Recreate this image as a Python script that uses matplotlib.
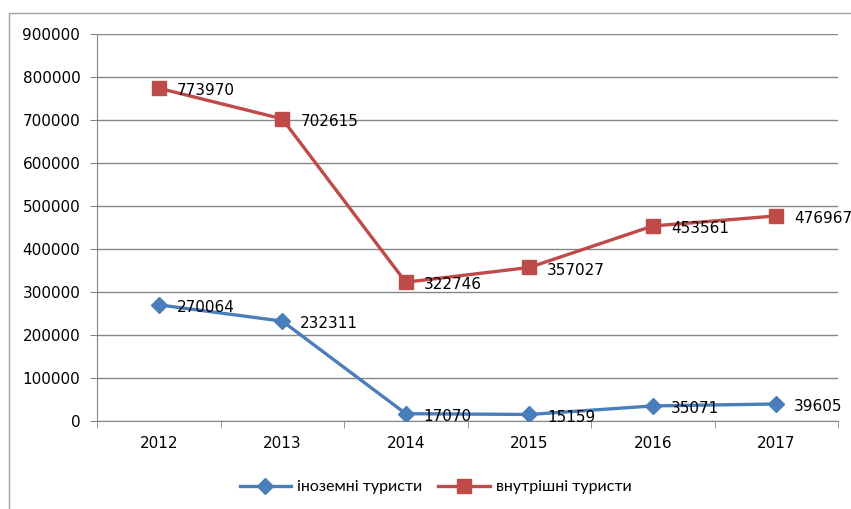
import matplotlib.pyplot as plt
from matplotlib.patches import Rectangle

# дані
years = ["2012", "2013", "2014", "2015", "2016", "2017"]
foreign = [270064, 232311, 17070, 15159, 35071, 39605]
domestic = [773970, 702615, 322746, 357027, 453561, 476967]
yticks = [0, 100000, 200000, 300000, 400000, 500000, 600000, 700000, 800000, 900000]

plt.rcParams['font.family'] = ['DejaVu Sans']
fs = 11

fig = plt.figure(figsize=(8.51, 5.09), dpi=100)
ax = fig.add_axes([97/851, 1-421/509, 741/851, 387/509])

# рамка діаграми
fig.patches.append(Rectangle((9/851, -0.1), 1.0, 1-13/509+0.1, transform=fig.transFigure,
                             fill=False, edgecolor="#a0a0a0", linewidth=1))

x = list(range(len(years)))
blue = "#4a7ebb"
red = "#be4b48"
ax.plot(x, foreign, color=blue, lw=2.4, marker="D", ms=8, label="іноземні туристи", zorder=3)
ax.plot(x, domestic, color=red, lw=2.4, marker="s", ms=10, label="внутрішні туристи", zorder=3)

for i in x:
    ax.annotate(str(foreign[i]), (i, foreign[i]), xytext=(13, -2), textcoords="offset points",
                ha="left", va="center", fontsize=fs, zorder=4)
    ax.annotate(str(domestic[i]), (i, domestic[i]), xytext=(13, -2), textcoords="offset points",
                ha="left", va="center", fontsize=fs, zorder=4)

ax.set_xlim(-0.5, 5.5)
ax.set_ylim(0, 900000)
ax.set_yticks(yticks)
ax.set_yticklabels([str(v) for v in yticks], fontsize=fs)
ax.set_xticks(x)
ax.set_xticklabels(years, fontsize=fs)
ax.set_xticks([i + 0.5 for i in range(-1, 6)], minor=True)
ax.tick_params(axis="x", which="major", length=0, pad=11)
ax.tick_params(axis="x", which="minor", length=5, color="#868686")
ax.tick_params(axis="y", length=5, color="#868686", pad=7)
ax.yaxis.grid(True, color="#868686", lw=1)
ax.set_axisbelow(True)
for s in ["top", "right"]:
    ax.spines[s].set_visible(False)
for s in ["left", "bottom"]:
    ax.spines[s].set_color("#868686")

fig.legend(loc="center", bbox_to_anchor=(0.512, 1-487/509), ncol=2, frameon=False,
           prop={"family": ["Lato", "DejaVu Sans"], "size": 11.5},
           handlelength=3.2, columnspacing=1.0, handletextpad=0.4)

fig.savefig("out.png", dpi=100)
